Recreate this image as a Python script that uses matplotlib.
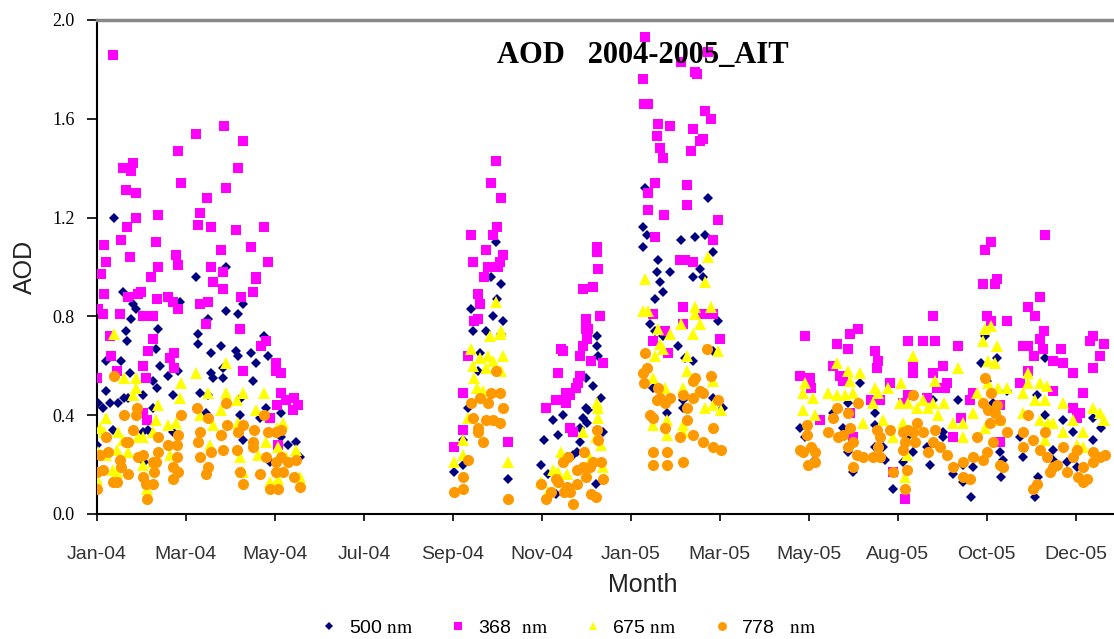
import matplotlib
matplotlib.use("Agg")
import matplotlib.pyplot as plt
from matplotlib.lines import Line2D

# AOD readings as (day since start of axis, AOD) for each wavelength
AOD_500 = [
    (12, 1.20), (69, 0.96), (18, 0.90), (25, 0.85), (27, 0.83), (58, 0.86), (90, 1.00), (24, 0.79),
    (20, 0.74), (21, 0.70), (43, 0.75), (71, 0.73), (71, 0.69), (41, 0.67), (6, 0.62), (17, 0.62),
    (44, 0.60), (23, 0.57), (39, 0.54), (42, 0.51), (50, 0.56), (57, 0.58), (6, 0.50), (53, 0.48),
    (32, 0.48), (1, 0.45), (4, 0.43), (9, 0.45), (15, 0.45), (19, 0.47), (22, 0.47), (39, 0.43),
    (11, 0.34), (32, 0.33), (36, 0.34), (53, 0.33), (0, 0.28), (33, 0.21), (102, 0.85), (99, 0.81),
    (90, 0.82), (78, 0.79), (87, 0.68), (80, 0.65), (97, 0.66), (99, 0.64), (108, 0.65), (117, 0.72),
    (120, 0.64), (111, 0.61), (88, 0.59), (80, 0.57), (81, 0.55), (88, 0.55), (109, 0.54), (72, 0.49),
    (78, 0.48), (101, 0.47), (76, 0.41), (100, 0.40), (118, 0.43), (129, 0.41), (102, 0.30), (129, 0.31),
    (134, 0.28), (139, 0.29), (142, 0.23), (121, 0.21), (114, 0.39),
    (279, 1.10), (276, 0.96), (283, 0.93), (280, 0.87), (262, 0.83), (277, 0.80), (284, 0.78), (263, 0.74),
    (272, 0.74), (283, 0.73), (268, 0.65), (267, 0.58), (260, 0.43), (256, 0.30), (256, 0.20), (250, 0.17),
    (288, 0.14),
    (350, 0.72), (350, 0.68), (351, 0.64), (342, 0.55), (347, 0.52), (353, 0.47), (342, 0.43), (344, 0.42),
    (326, 0.40), (340, 0.39), (343, 0.37), (323, 0.32), (338, 0.35), (354, 0.33), (338, 0.29), (336, 0.25),
    (333, 0.24), (329, 0.23), (349, 0.12), (313, 0.30), (311, 0.20), (316, 0.16), (319, 0.38), (321, 0.08),
    (384, 1.32), (428, 1.28), (382, 1.16), (385, 1.13), (382, 1.08), (409, 1.11), (419, 1.12), (426, 1.13),
    (431, 1.06), (393, 1.03), (392, 0.98), (401, 0.98), (394, 0.94), (417, 0.96), (422, 0.99), (424, 0.96),
    (396, 0.90), (391, 0.87), (387, 0.77), (391, 0.74), (396, 0.72), (435, 0.78), (407, 0.68), (417, 0.62),
    (412, 0.63), (431, 0.66), (389, 0.51), (410, 0.46), (410, 0.43), (399, 0.41), (438, 0.43), (431, 0.47),
    (534, 0.53), (526, 0.45), (515, 0.41), (522, 0.35), (545, 0.41), (545, 0.36), (545, 0.27), (526, 0.25),
    (529, 0.17), (501, 0.26), (503, 0.22), (492, 0.35), (496, 0.31), (550, 0.27), (552, 0.22), (557, 0.10),
    (564, 0.21), (567, 0.31), (571, 0.25), (585, 0.46), (581, 0.27), (592, 0.33), (592, 0.31), (583, 0.20),
    (599, 0.16), (603, 0.46), (606, 0.20), (606, 0.13), (612, 0.07), (613, 0.19), (619, 0.61), (622, 0.72),
    (630, 0.63), (632, 0.25), (634, 0.22), (633, 0.15), (637, 0.50), (627, 0.45), (623, 0.54), (664, 0.63),
    (658, 0.48), (646, 0.31), (648, 0.23), (659, 0.15), (657, 0.07), (664, 0.40), (669, 0.26), (669, 0.22),
    (676, 0.38), (679, 0.21), (683, 0.33), (686, 0.19), (690, 0.13), (697, 0.30), (697, 0.39), (703, 0.35),
]

AOD_368 = [
    (11, 1.86), (89, 1.57), (69, 1.54), (102, 1.51), (57, 1.47), (25, 1.42), (18, 1.40), (24, 1.39),
    (99, 1.40), (59, 1.34), (90, 1.32), (20, 1.31), (27, 1.30), (77, 1.28), (72, 1.22), (27, 1.20),
    (43, 1.21), (71, 1.17), (80, 1.16), (97, 1.15), (117, 1.16), (21, 1.16), (5, 1.09), (17, 1.11),
    (41, 1.10), (87, 1.07), (108, 1.08), (6, 1.02), (23, 1.04), (55, 1.05), (57, 1.01), (120, 1.02),
    (43, 1.00), (80, 1.00), (3, 0.97), (38, 0.96), (88, 0.98), (111, 0.96), (81, 0.94), (88, 0.91),
    (111, 0.95), (109, 0.90), (5, 0.89), (22, 0.88), (29, 0.89), (31, 0.90), (42, 0.87), (50, 0.88),
    (53, 0.86), (57, 0.83), (72, 0.85), (78, 0.86), (101, 0.88), (1, 0.83), (4, 0.81), (16, 0.81),
    (32, 0.80), (39, 0.80), (76, 0.77), (100, 0.75), (9, 0.72), (39, 0.71), (36, 0.66), (51, 0.63),
    (54, 0.65), (115, 0.68), (118, 0.70), (10, 0.64), (32, 0.60), (54, 0.59), (102, 0.58), (125, 0.61),
    (125, 0.58), (129, 0.57), (14, 0.58), (0, 0.55), (34, 0.55), (129, 0.49), (132, 0.46), (138, 0.47),
    (141, 0.44), (137, 0.42), (126, 0.44), (32, 0.41), (35, 0.38), (121, 0.39), (127, 0.28),
    (279, 1.43), (276, 1.34), (283, 1.28), (280, 1.16), (262, 1.13), (277, 1.13), (272, 1.07), (284, 1.05),
    (263, 1.02), (274, 1.00), (282, 1.02), (281, 1.00), (271, 0.96), (267, 0.89), (268, 0.85), (264, 0.78),
    (267, 0.79), (260, 0.64), (256, 0.49), (256, 0.34), (250, 0.27), (288, 0.29),
    (350, 1.08), (350, 1.06), (351, 0.99), (340, 0.91), (347, 0.92), (352, 0.80), (342, 0.79), (342, 0.75),
    (344, 0.75), (343, 0.71), (340, 0.68), (325, 0.67), (326, 0.66), (338, 0.64), (346, 0.62), (354, 0.61),
    (323, 0.57), (338, 0.56), (337, 0.53), (335, 0.51), (328, 0.49), (331, 0.48), (328, 0.45), (331, 0.35),
    (333, 0.33), (314, 0.43), (321, 0.46),
    (384, 1.93), (409, 1.83), (428, 1.87), (419, 1.79), (420, 1.78), (382, 1.76), (383, 1.66), (386, 1.66),
    (426, 1.63), (430, 1.60), (393, 1.58), (401, 1.57), (392, 1.53), (417, 1.56), (422, 1.51), (424, 1.52),
    (394, 1.48), (416, 1.47), (396, 1.44), (391, 1.34), (386, 1.30), (413, 1.33), (386, 1.23), (397, 1.21),
    (413, 1.25), (435, 1.19), (391, 1.12), (431, 1.11), (408, 1.03), (412, 1.03), (417, 1.02), (410, 0.84),
    (389, 0.81), (424, 0.81), (431, 0.81), (410, 0.77), (436, 0.71), (398, 0.74), (389, 0.70), (400, 0.65),
    (496, 0.72), (518, 0.69), (527, 0.73), (533, 0.75), (526, 0.67), (545, 0.66), (547, 0.62), (546, 0.59),
    (515, 0.60), (520, 0.56), (522, 0.54), (492, 0.56), (499, 0.55), (500, 0.51), (568, 0.70), (578, 0.70),
    (587, 0.70), (585, 0.80), (571, 0.60), (571, 0.57), (585, 0.57), (592, 0.60), (603, 0.68), (595, 0.53),
    (594, 0.51), (588, 0.51), (555, 0.53), (622, 1.07), (626, 1.10), (620, 0.93), (629, 0.93), (630, 0.95),
    (623, 0.80), (626, 0.78), (637, 0.78), (664, 1.13), (652, 0.84), (660, 0.88), (657, 0.80), (663, 0.74),
    (660, 0.71), (648, 0.68), (652, 0.68), (662, 0.67), (656, 0.64), (669, 0.62), (676, 0.61), (683, 0.57),
    (675, 0.67), (697, 0.72), (695, 0.70), (705, 0.69), (702, 0.64), (697, 0.59), (690, 0.49), (646, 0.53),
    (669, 0.50), (683, 0.43), (688, 0.41), (686, 0.39), (611, 0.46), (613, 0.49), (632, 0.44), (652, 0.58),
    (605, 0.39), (599, 0.31), (557, 0.17), (566, 0.06), (529, 0.31), (632, 0.29), (542, 0.46), (548, 0.46),
    (564, 0.45), (568, 0.48), (527, 0.41), (506, 0.38), (581, 0.47), (589, 0.51),
]

AOD_675 = [
    (12, 0.73), (69, 0.57), (19, 0.55), (27, 0.55), (27, 0.51), (25, 0.48), (59, 0.53), (58, 0.47),
    (43, 0.44), (6, 0.39), (41, 0.38), (55, 0.37), (50, 0.36), (2, 0.35), (5, 0.33), (15, 0.33),
    (18, 0.30), (29, 0.31), (32, 0.31), (39, 0.33), (1, 0.25), (6, 0.24), (14, 0.26), (22, 0.25),
    (32, 0.20), (39, 0.21), (51, 0.24), (0, 0.14), (11, 0.18), (14, 0.17), (35, 0.10), (90, 0.61),
    (78, 0.49), (90, 0.49), (102, 0.49), (117, 0.49), (98, 0.46), (72, 0.40), (87, 0.42), (111, 0.42),
    (99, 0.37), (81, 0.36), (130, 0.37), (126, 0.35), (118, 0.29), (79, 0.28), (113, 0.24), (139, 0.26),
    (100, 0.23), (127, 0.27), (132, 0.23), (142, 0.15), (121, 0.13), (127, 0.14), (102, 0.17),
    (279, 0.86), (282, 0.73), (275, 0.72), (283, 0.74), (262, 0.67), (268, 0.63), (274, 0.64), (284, 0.64),
    (263, 0.60), (272, 0.59), (277, 0.62), (283, 0.58), (264, 0.55), (266, 0.51), (270, 0.50), (260, 0.39),
    (256, 0.30), (256, 0.24), (250, 0.21), (288, 0.21),
    (350, 0.45), (351, 0.43), (351, 0.39), (340, 0.33), (349, 0.31), (353, 0.28), (325, 0.25), (354, 0.19),
    (323, 0.17), (329, 0.16), (343, 0.25), (345, 0.22), (311, 0.13), (316, 0.09), (319, 0.18),
    (428, 1.04), (384, 0.95), (426, 0.94), (382, 0.82), (386, 0.82), (419, 0.84), (430, 0.84), (419, 0.81),
    (422, 0.77), (417, 0.73), (409, 0.77), (393, 0.75), (401, 0.73), (394, 0.69), (396, 0.67), (391, 0.64),
    (413, 0.64), (435, 0.66), (413, 0.58), (389, 0.55), (431, 0.54), (398, 0.51), (410, 0.51), (426, 0.43),
    (431, 0.44), (437, 0.42), (389, 0.36), (399, 0.38), (399, 0.32), (410, 0.36), (410, 0.33), (421, 0.50),
    (496, 0.53), (494, 0.49), (494, 0.42), (501, 0.47), (503, 0.40), (512, 0.49), (518, 0.48), (524, 0.48),
    (529, 0.49), (518, 0.61), (526, 0.58), (527, 0.54), (534, 0.57), (536, 0.37), (545, 0.51), (547, 0.49),
    (554, 0.51), (563, 0.53), (543, 0.45), (550, 0.38), (571, 0.64), (562, 0.45), (568, 0.45), (574, 0.43),
    (564, 0.37), (557, 0.31), (567, 0.24), (566, 0.15), (578, 0.46), (585, 0.45), (593, 0.45), (587, 0.54),
    (582, 0.43), (589, 0.40), (603, 0.59), (599, 0.37), (606, 0.37), (606, 0.31), (616, 0.49), (613, 0.41),
    (620, 0.70), (622, 0.75), (626, 0.76), (624, 0.62), (629, 0.61), (630, 0.68), (624, 0.53), (631, 0.51),
    (637, 0.51), (622, 0.35), (632, 0.38), (652, 0.57), (652, 0.53), (660, 0.53), (665, 0.52), (648, 0.49),
    (648, 0.41), (657, 0.46), (664, 0.46), (660, 0.38), (666, 0.37), (669, 0.37), (676, 0.45), (676, 0.33),
    (683, 0.38), (686, 0.28), (690, 0.33), (690, 0.27), (697, 0.43), (702, 0.41), (705, 0.38), (664, 0.30),
]

AOD_778 = [
    (12, 0.56), (59, 0.40), (19, 0.40), (27, 0.40), (28, 0.43), (25, 0.34), (20, 0.29), (22, 0.29),
    (43, 0.31), (43, 0.25), (57, 0.32), (6, 0.31), (2, 0.24), (8, 0.25), (4, 0.18), (0, 0.17),
    (16, 0.22), (17, 0.19), (29, 0.23), (32, 0.24), (39, 0.21), (41, 0.21), (40, 0.17), (50, 0.28),
    (56, 0.28), (56, 0.23), (53, 0.19), (57, 0.17), (53, 0.14), (11, 0.13), (14, 0.13), (22, 0.16),
    (32, 0.15), (34, 0.12), (39, 0.12), (0, 0.10), (35, 0.06), (90, 0.45), (70, 0.43), (78, 0.39),
    (91, 0.36), (102, 0.36), (72, 0.33), (71, 0.29), (87, 0.32), (99, 0.33), (110, 0.34), (117, 0.40),
    (120, 0.33), (125, 0.33), (129, 0.34), (109, 0.29), (109, 0.27), (80, 0.25), (88, 0.26), (98, 0.26),
    (72, 0.23), (78, 0.19), (118, 0.23), (125, 0.21), (129, 0.23), (134, 0.21), (139, 0.22), (76, 0.16),
    (100, 0.17), (102, 0.12), (114, 0.16), (125, 0.17), (130, 0.17), (138, 0.15), (121, 0.10), (127, 0.10),
    (142, 0.11),
    (279, 0.58), (262, 0.45), (268, 0.47), (274, 0.45), (276, 0.49), (282, 0.49), (284, 0.43), (263, 0.39),
    (267, 0.35), (272, 0.38), (277, 0.38), (282, 0.37), (267, 0.33), (270, 0.29), (260, 0.22), (256, 0.15),
    (250, 0.09), (256, 0.10), (288, 0.06),
    (350, 0.34), (351, 0.30), (341, 0.25), (347, 0.21), (353, 0.21), (326, 0.21), (330, 0.23), (336, 0.18),
    (340, 0.19), (345, 0.19), (323, 0.13), (329, 0.11), (331, 0.09), (336, 0.12), (342, 0.15), (346, 0.08),
    (349, 0.07), (354, 0.14), (333, 0.04), (327, 0.09), (311, 0.12), (314, 0.06), (318, 0.09), (321, 0.14),
    (427, 0.67), (384, 0.65), (385, 0.59), (382, 0.57), (383, 0.53), (419, 0.55), (417, 0.54), (430, 0.56),
    (393, 0.51), (394, 0.47), (392, 0.46), (398, 0.45), (401, 0.47), (410, 0.48), (417, 0.47), (422, 0.50),
    (424, 0.49), (435, 0.46), (413, 0.43), (387, 0.40), (389, 0.39), (398, 0.35), (413, 0.38), (431, 0.35),
    (408, 0.31), (417, 0.32), (424, 0.29), (389, 0.25), (399, 0.25), (389, 0.20), (399, 0.20), (410, 0.21),
    (431, 0.27), (437, 0.26),
    (497, 0.36), (497, 0.32), (492, 0.26), (494, 0.25), (498, 0.20), (503, 0.21), (500, 0.27), (503, 0.25),
    (515, 0.39), (512, 0.33), (518, 0.43), (519, 0.31), (522, 0.32), (526, 0.41), (533, 0.45), (527, 0.35),
    (529, 0.29), (526, 0.27), (532, 0.24), (536, 0.23), (529, 0.19), (543, 0.23), (548, 0.23), (546, 0.34),
    (548, 0.31), (547, 0.27), (555, 0.34), (557, 0.17), (564, 0.33), (568, 0.34), (571, 0.33), (564, 0.26),
    (566, 0.29), (573, 0.29), (567, 0.18), (566, 0.10), (571, 0.48), (578, 0.33), (574, 0.37), (582, 0.25),
    (585, 0.29), (587, 0.34), (590, 0.27), (595, 0.24), (599, 0.19), (606, 0.21), (606, 0.15), (611, 0.14),
    (620, 0.22), (623, 0.25), (620, 0.45), (622, 0.55), (626, 0.49), (624, 0.42), (630, 0.44), (629, 0.41),
    (625, 0.37), (632, 0.38), (637, 0.33), (627, 0.29), (632, 0.20), (634, 0.19), (613, 0.23), (616, 0.31),
    (648, 0.33), (652, 0.40), (648, 0.27), (655, 0.30), (660, 0.26), (658, 0.12), (655, 0.10), (664, 0.33),
    (665, 0.23), (669, 0.19), (667, 0.17), (676, 0.27), (672, 0.20), (683, 0.23), (686, 0.26), (679, 0.17),
    (687, 0.15), (690, 0.13), (693, 0.14), (697, 0.25), (697, 0.21), (690, 0.19), (702, 0.23), (706, 0.24),
]

MONTH_LABELS = ["Jan-04", "Mar-04", "May-04", "Jul-04", "Sep-04", "Nov-04",
                "Jan-05", "Mar-05", "May-05", "Aug-05", "Oct-05", "Dec-05"]
AOD_TICKS = [0.0, 0.4, 0.8, 1.2, 1.6, 2.0]

SERIES = [
    ("500", AOD_500, "D", "#000080", 5.5),
    ("368", AOD_368, "s", "#FF00FF", 7.5),
    ("675", AOD_675, "^", "#FFFF00", 8.0),
    ("778", AOD_778, "o", "#FF9900", 8.0),
]
LEGEND_GAP = {"500": "", "368": " ", "675": "", "778": "  "}

NARROW = ["Liberation Sans Narrow", "Liberation Sans"]
SERIF = ["Liberation Serif", "DejaVu Serif"]

plt.rcParams["mathtext.fontset"] = "stix"

fig = plt.figure(figsize=(11.14, 6.39), dpi=100)
ax = fig.add_axes([97 / 1114, 125 / 639, 1017 / 1114, 494 / 639])

handles = []
labels = []
for name, points, marker, color, size in SERIES:
    days = [p[0] for p in points]
    values = [p[1] for p in points]
    ax.plot(days, values, linestyle="none", marker=marker, markersize=size,
            markerfacecolor=color, markeredgewidth=0, zorder=3)
    handles.append(Line2D([0], [0], linestyle="none", marker=marker, markersize=size * 0.8,
                          markerfacecolor=color, markeredgewidth=0))
    labels.append(name + LEGEND_GAP[name] + r" $\mathrm{nm}$")

tick_step = 62.3
ax.set_xlim(0, 712)
ax.set_ylim(0, 2.0)
ax.set_xticks([i * tick_step for i in range(len(MONTH_LABELS))])
ax.set_xticklabels(MONTH_LABELS, family=NARROW, fontsize=14, color="#333333")
ax.set_yticks(AOD_TICKS)
ax.set_yticklabels([f"{v:.1f}" for v in AOD_TICKS], family=SERIF, fontsize=13)
ax.tick_params(axis="x", direction="out", length=5, width=1.2, pad=18)
ax.tick_params(axis="y", direction="out", length=7, width=1.2, pad=9)

for side in ("left", "bottom"):
    ax.spines[side].set_color("black")
    ax.spines[side].set_linewidth(1.5)
ax.spines["right"].set_visible(False)
ax.spines["top"].set_color("#888888")
ax.spines["top"].set_linewidth(2.5)

ax.set_xlabel("Month", family=NARROW, fontsize=18, color="#222222")
ax.xaxis.set_label_coords(0.537, -0.144)
ax.xaxis.label.set_va("center")
ax.set_ylabel("AOD", family=NARROW, fontsize=18, color="#222222")
ax.yaxis.set_label_coords(-0.071, 0.5)
ax.yaxis.label.set_va("center")

ax.text(0.537, 0.929, "AOD   2004-2005_AIT", transform=ax.transAxes, ha="center", va="center",
        family=SERIF, fontsize=22, fontweight="bold")

fig.legend(handles, labels, loc="center", bbox_to_anchor=(0.511, 0.017), ncol=4, frameon=False,
           prop={"family": NARROW, "size": 14}, handlelength=0.8,
           handletextpad=0.6, columnspacing=1.9, borderaxespad=0)

fig.savefig("out.png", dpi=100)
